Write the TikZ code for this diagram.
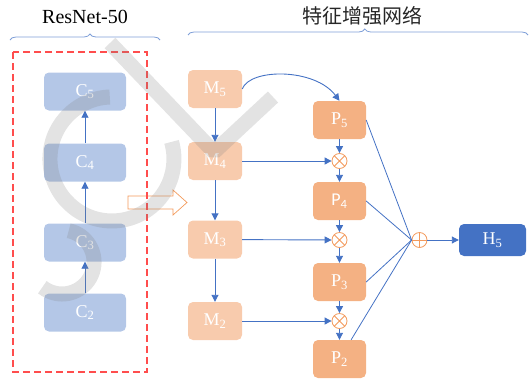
\documentclass[tikz,border=0pt]{standalone}
\usepackage{fontspec}
\setmainfont{Liberation Serif}
\newfontfamily\cjk{Noto Sans CJK SC}
\newfontfamily\calib{Carlito}
\usetikzlibrary{arrows.meta,decorations.pathreplacing,calc}
\definecolor{cfill}{HTML}{B4C7E7}
\definecolor{mfill}{HTML}{F8CBAD}
\definecolor{pfill}{HTML}{F4B183}
\definecolor{hfill}{HTML}{4472C4}
\definecolor{lineblue}{HTML}{4472C4}
\definecolor{opcol}{HTML}{F39A5C}
\definecolor{dashred}{HTML}{FF4D4D}
\definecolor{bracecol}{HTML}{7F9FD8}
\begin{document}
\begin{tikzpicture}[x=1pt,y=-1pt,
  box/.style={rounded corners=5pt, text=white, font=\fontsize{18}{20}\selectfont, inner sep=0pt},
  cbox/.style={box, fill=cfill, minimum width=82pt, minimum height=38pt},
  mbox/.style={box, fill=mfill, minimum width=54pt, minimum height=38pt},
  pbox/.style={box, fill=pfill, minimum width=53pt, minimum height=38pt},
  hbox/.style={box, fill=hfill, minimum width=67pt, minimum height=32pt},
  arr/.style={draw=lineblue, line width=0.9pt, -{Triangle[length=7pt,width=7pt]}},
  link/.style={draw=lineblue, line width=0.8pt},
  optimes/.style={circle, draw=opcol, fill=white, line width=0.8pt, minimum size=15pt, inner sep=0pt,
    path picture={\draw[opcol, line width=0.8pt] (path picture bounding box.north west) -- (path picture bounding box.south east)
      (path picture bounding box.north east) -- (path picture bounding box.south west);}},
  opplus/.style={circle, draw=opcol, fill=white, line width=0.8pt, minimum size=15pt, inner sep=0pt,
    path picture={\draw[opcol, line width=0.8pt] (path picture bounding box.north) -- (path picture bounding box.south)
      (path picture bounding box.east) -- (path picture bounding box.west);}},
  bracestyle/.style={draw=bracecol, line width=0.8pt, decorate},
  wm/.style={draw=gray, line width=15pt, opacity=0.22}
]
\useasboundingbox (0,0) rectangle (529,378);

% titles and braces
\node[font=\fontsize{20}{22}\selectfont] (ttl1) at (85,17) {ResNet-50};
\node[font=\cjk\fontsize{20}{22}\selectfont, text=black!85] (ttl2) at (362,16) {特征增强网络};
\draw[bracestyle, decoration={brace, amplitude=6pt, aspect=0.533}] (10,40) -- (160,40);
\draw[bracestyle, decoration={brace, amplitude=6pt, aspect=0.52}] (188,35) -- (528,35);

% hollow arrow
\draw[draw=opcol, line width=0.7pt] (128,196) -- (173,196) -- (173,190) -- (187,202.5) -- (173,215) -- (173,209) -- (128,209) -- cycle;

% backbone frame
\draw[dashred, line width=1.3pt, dash pattern=on 7pt off 4pt] (13,52) rectangle (147,372);

% C boxes
\node[cbox] (C5) at (85,91.5) {C\textsubscript{5}};
\node[cbox] (C4) at (85,162.5) {C\textsubscript{4}};
\node[cbox] (C3) at (85,242.5) {C\textsubscript{3}};
\node[cbox] (C2) at (85,312.5) {C\textsubscript{2}};
\draw[arr] (C2) -- (C3);
\draw[arr] (C3) -- (C4);
\draw[arr] (C4) -- (C5);

% M boxes
\node[mbox] (M5) at (215,89) {M\textsubscript{5}};
\node[mbox] (M4) at (215,161) {M\textsubscript{4}};
\node[mbox] (M3) at (215,239.5) {M\textsubscript{3}};
\node[mbox] (M2) at (215,321) {M\textsubscript{2}};
\draw[arr] (M5) -- (M4);
\draw[arr] (M4) -- (M3);
\draw[arr] (M3) -- (M2);

% P boxes
\node[pbox] (P5) at (339.5,120) {P\textsubscript{5}};
\node[pbox, font=\calib\fontsize{18}{20}\selectfont] (P4) at (339.5,201) {P\textsubscript{4}};
\node[pbox] (P3) at (339.5,282) {P\textsubscript{3}};
\node[pbox] (P2) at (339.5,359) {P\textsubscript{2}};

\node[optimes] (X1) at (339.5,161) {};
\node[optimes] (X2) at (339.5,240) {};
\node[optimes] (X3) at (339.5,321) {};

\draw[arr] (M5.east) .. controls (250,68) and (315,68) .. (P5.north);
\draw[arr] (M4) -- (X1);
\draw[arr] (M3) -- (X2);
\draw[arr] (M2) -- (X3);
\draw[arr] (P5) -- (X1);
\draw[arr] (X1) -- (P4);
\draw[arr] (P4) -- (X2);
\draw[arr] (X2) -- (P3);
\draw[arr] (P3) -- (X3);
\draw[arr] (X3) -- (P2);

% fusion
\node[opplus] (S) at (419.5,240) {};
\draw[link] (P5.east) -- (S.west);
\draw[link] (P4.east) -- (S.west);
\draw[link] (P3.east) -- (S.west);
\draw[link] (S.west) -- (P2);
\node[hbox] (H5) at (492.5,240) {H\textsubscript{5}};
\draw[arr] (S) -- (H5);

% watermark
\draw[wm, line join=bevel] (110,43) -- (214,152) -- (273,97);
\draw[wm] (109.8,97) arc[start angle=268, end angle=-16, radius=62];
\draw[wm] (68.7,230.7) arc[start angle=-78, end angle=128, radius=32];
\end{tikzpicture}
\end{document}
